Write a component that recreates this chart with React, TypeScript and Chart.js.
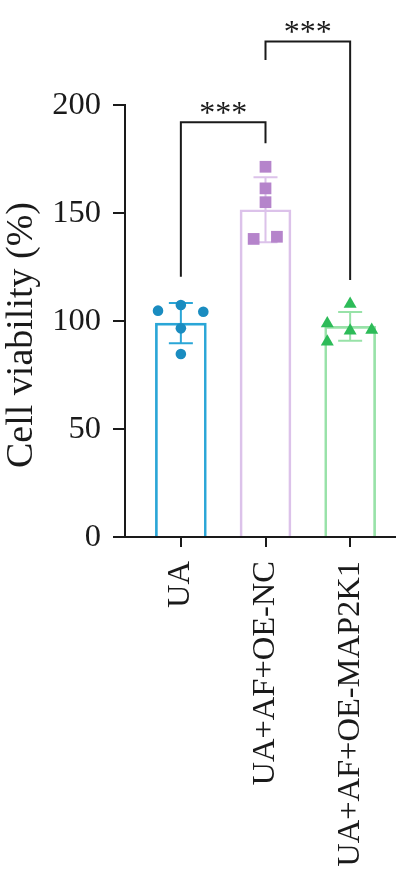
import React, { useEffect, useRef } from "react";
import { Chart, registerables } from "chart.js";

Chart.register(...registerables);

const categories = ["UA", "UA+AF+OE-NC", "UA+AF+OE-MAP2K1"];
const means = [99, 151.5, 97.5];
const sds = [9.3, 15, 6.7];

const uaX = [-0.27, 0, 0.265, 0, 0];
const uaY = [104.8, 107.4, 104.3, 96.6, 84.7];
const ncX = [1, 1, 1, 0.86, 1.135];
const ncY = [171.4, 161.4, 155, 138, 139];
const mapX = [2, 1.73, 2, 2.255, 1.73];
const mapY = [107.9, 98.9, 95.5, 95.8, 90.4];

const yTicks = [0, 50, 100, 150, 200];
const yTitle = "Cell viability (%)";

// significance comparisons
const compFrom = [0, 1];
const compTo = [1, 2];
const compTop = [192, 229.4];
const compLeftEnd = [120.5, 220.8];
const compRightEnd = [182.3, 119];
const compLabels = ["***", "***"];

const barBorder = ["#2aa6d7", "#dcc2ea", "#98e2a8"];
const pointColor = ["#1a8cc0", "#b584cb", "#2dbb58"];
const AXIS = "#1a1a1a";
const FONT = "'Liberation Serif', 'Times New Roman', serif";

export default function App() {
  const ref = useRef<HTMLCanvasElement | null>(null);

  useEffect(() => {
    if (!ref.current) return;

    const errorBars = {
      id: "errorBars",
      afterDatasetDraw(chart: any, args: any) {
        if (args.index !== 3) return;
        const { ctx, scales } = chart;
        const xs = scales.x;
        const ys = scales.y;
        ctx.save();
        ctx.lineWidth = 2;
        for (let i = 0; i < means.length; i++) {
          const x = xs.getPixelForValue(i);
          const yt = ys.getPixelForValue(means[i] + sds[i]);
          const yb = ys.getPixelForValue(means[i] - sds[i]);
          ctx.strokeStyle = barBorder[i];
          ctx.beginPath();
          ctx.moveTo(x, yt);
          ctx.lineTo(x, yb);
          ctx.moveTo(x - 12, yt);
          ctx.lineTo(x + 12, yt);
          ctx.moveTo(x - 12, yb);
          ctx.lineTo(x + 12, yb);
          ctx.stroke();
        }
        ctx.restore();
      },
    };

    const overlay = {
      id: "overlay",
      afterDraw(chart: any) {
        const { ctx, scales, chartArea } = chart;
        const xs = scales.x;
        const ys = scales.y;
        ctx.save();
        ctx.strokeStyle = AXIS;
        ctx.lineWidth = 2;
        ctx.fillStyle = AXIS;
        ctx.font = `32px ${FONT}`;
        ctx.textAlign = "center";
        ctx.textBaseline = "alphabetic";
        for (let i = 0; i < compFrom.length; i++) {
          const x1 = xs.getPixelForValue(compFrom[i]);
          const x2 = xs.getPixelForValue(compTo[i]);
          const yTop = ys.getPixelForValue(compTop[i]);
          ctx.beginPath();
          ctx.moveTo(x1, ys.getPixelForValue(compLeftEnd[i]));
          ctx.lineTo(x1, yTop);
          ctx.lineTo(x2, yTop);
          ctx.lineTo(x2, ys.getPixelForValue(compRightEnd[i]));
          ctx.stroke();
          ctx.fillText(compLabels[i], (x1 + x2) / 2, yTop + 1);
        }
        // y axis title
        ctx.font = `38px ${FONT}`;
        ctx.textBaseline = "middle";
        ctx.translate(22, (chartArea.top + chartArea.bottom) / 2 + 14);
        ctx.rotate(-Math.PI / 2);
        ctx.fillText(yTitle, 0, 0);
        ctx.restore();
      },
    };

    const mk = (xs: number[], ys: number[]) => xs.map((x, i) => ({ x, y: ys[i] }));

    const chart = new Chart(ref.current, {
      type: "bar",
      data: {
        datasets: [
          {
            type: "scatter",
            data: mk(uaX, uaY),
            pointStyle: "circle",
            pointRadius: 5.3,
            backgroundColor: pointColor[0],
            borderColor: pointColor[0],
            borderWidth: 0,
            order: 1,
          } as any,
          {
            type: "scatter",
            data: mk(ncX, ncY),
            pointStyle: "rect",
            pointRadius: 8.3,
            backgroundColor: pointColor[1],
            borderColor: pointColor[1],
            borderWidth: 0,
            order: 1,
          } as any,
          {
            type: "scatter",
            data: mk(mapX, mapY),
            pointStyle: "triangle",
            pointRadius: 7.5,
            backgroundColor: pointColor[2],
            borderColor: pointColor[2],
            borderWidth: 0,
            order: 1,
          } as any,
          {
            type: "bar",
            data: means.map((m, i) => ({ x: i, y: m })),
            backgroundColor: "rgba(255,255,255,0)",
            borderColor: barBorder,
            borderWidth: 2,
            barThickness: 51,
            order: 10,
          } as any,
        ],
      },
      options: {
        animation: false,
        responsive: false,
        devicePixelRatio: 1,
        layout: { padding: { top: 105, right: 15, left: 0, bottom: 0 } },
        plugins: { legend: { display: false }, tooltip: { enabled: false } },
        scales: {
          x: {
            type: "linear",
            offset: false,
            min: -0.66,
            max: 2.53,
            afterBuildTicks: (scale: any) => {
              scale.ticks = categories.map((_, i) => ({ value: i }));
            },
            afterFit: (scale: any) => {
              scale.height = 334;
            },
            ticks: {
              callback: (v: any) => categories[v as number] ?? "",
              minRotation: 90,
              maxRotation: 90,
              padding: 14,
              color: AXIS,
              font: { family: FONT, size: 32.5 },
              autoSkip: false,
            },
            grid: {
              offset: false,
              drawOnChartArea: false,
              tickLength: 10,
              color: AXIS,
              lineWidth: 2,
            },
            border: { color: AXIS, width: 2 },
          },
          y: {
            type: "linear",
            min: 0,
            max: 200,
            afterBuildTicks: (scale: any) => {
              scale.ticks = yTicks.map((v) => ({ value: v }));
            },
            afterFit: (scale: any) => {
              scale.width = 125;
            },
            ticks: {
              padding: 12,
              color: AXIS,
              font: { family: FONT, size: 32.5 },
            },
            grid: {
              drawOnChartArea: false,
              tickLength: 12,
              color: AXIS,
              lineWidth: 2,
            },
            border: { color: AXIS, width: 2 },
          },
        },
      } as any,
      plugins: [errorBars, overlay],
    });

    return () => chart.destroy();
  }, []);

  return (
    <div style={{ position: "absolute", left: 0, top: 0, width: 410, height: 871, background: "#fff" }}>
      <canvas ref={ref} width={410} height={871} style={{ width: 410, height: 871 }} />
    </div>
  );
}
